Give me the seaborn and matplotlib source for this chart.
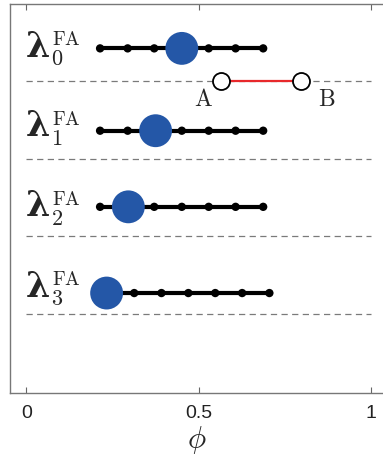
import matplotlib
matplotlib.use("Agg")
import matplotlib.pyplot as plt
import seaborn as sns
import pandas as pd

# phi grid for each eigenvalue row, and the index of the highlighted point
rows = ["0", "1", "2", "3"]
phi_row0 = [0.214, 0.294, 0.371, 0.451, 0.529, 0.607, 0.687]
phi_row1 = [0.214, 0.294, 0.375, 0.451, 0.529, 0.607, 0.687]
phi_row2 = [0.214, 0.296, 0.371, 0.451, 0.529, 0.607, 0.687]
phi_row3 = [0.233, 0.313, 0.392, 0.470, 0.548, 0.626, 0.705]
highlight_idx = [3, 2, 1, 0]

# segment A-B
seg_labels = ["A", "B"]
seg_phi = [0.564, 0.798]

xticks = [0, 0.5, 1]
xtick_labels = ["0", "0.5", "1"]

# vertical layout (axis units, increasing downwards)
row_y = [0.58, 1.64, 2.62, 3.73]
label_baseline_y = [0.687, 1.713, 2.743, 3.777]
separator_y = [1, 2, 3, 4]
seg_y = 1.0

sns.set_theme(style="ticks")
plt.rcParams["mathtext.fontset"] = "cm"
plt.rcParams["font.family"] = ["Liberation Sans", "DejaVu Sans"]

fig = plt.figure(figsize=(3.83, 4.62), dpi=100)
W, H = 383, 462
ax = fig.add_axes([9.7 / W, 69.3 / H, (383 - 9.7) / W, 388.4 / H])
ax.set_xlim(-0.0481, 1.0345)
ax.set_ylim(5.013, 0.0125)

records = []
for r, (grid, y) in enumerate(zip([phi_row0, phi_row1, phi_row2, phi_row3], row_y)):
    for i, p in enumerate(grid):
        records.append({"row": rows[r], "phi": p, "y": y, "hl": i == highlight_idx[r]})
df = pd.DataFrame(records)

# dashed separators
for y in separator_y:
    ax.plot([0, 1], [y, y], color="#7a7a7a", lw=0.9, dashes=(5, 3.5), zorder=1)

# black chains with small dots and the highlighted point
sns.lineplot(data=df, x="phi", y="y", units="row", estimator=None, sort=False,
             color="black", lw=3.0, ax=ax, legend=False, zorder=2)
sns.scatterplot(data=df[~df.hl], x="phi", y="y", color="black", s=36,
                edgecolor="none", ax=ax, legend=False, zorder=3)
sns.scatterplot(data=df[df.hl], x="phi", y="y", color="#2457a7", s=560,
                edgecolor="none", ax=ax, legend=False, zorder=4)

# A-B segment
seg = pd.DataFrame({"phi": seg_phi, "y": [seg_y, seg_y], "lab": seg_labels})
ax.plot(seg.phi, seg.y, color="#e8282b", lw=1.6, zorder=3)
sns.scatterplot(data=seg, x="phi", y="y", color="white", s=150,
                edgecolor="black", linewidth=1.3, ax=ax, legend=False, zorder=5)
ax.text(seg_phi[0] - 0.05, seg_y + 0.24, r"$\mathrm{%s}$" % seg_labels[0], fontsize=17,
        ha="center", va="center")
ax.text(seg_phi[1] + 0.072, seg_y + 0.24, r"$\mathrm{%s}$" % seg_labels[1], fontsize=17,
        ha="center", va="center")

# row labels: bold lambda, then FA superscript and index subscript next to it
for r, yb in zip(rows, label_baseline_y):
    lam = ax.annotate("λ", xy=(-0.002, yb), xycoords="data", fontsize=25,
                      family="DejaVu Serif", fontweight="bold", ha="left", va="baseline")
    ax.annotate(r"$\mathrm{FA}$", xy=(1.0, yb), xycoords=(lam, "data"),
                xytext=(1.4, 8.4), textcoords="offset points",
                fontsize=14, ha="left", va="baseline")
    ax.annotate(r"$\mathrm{%s}$" % r, xy=(1.0, yb), xycoords=(lam, "data"),
                xytext=(0.6, -6.2), textcoords="offset points",
                fontsize=16, ha="left", va="baseline")

ax.set_xticks(xticks)
ax.set_xticklabels(xtick_labels, fontsize=14, color="#222222")
ax.set_yticks([])
ax.set_ylabel("")
ax.set_xlabel(r"$\phi$", fontsize=22, labelpad=1)
ax.tick_params(axis="x", direction="in", top=True, bottom=True, length=4,
               width=0.8, color="#666666", pad=9)
for s in ["left", "bottom", "top"]:
    ax.spines[s].set_color("#777777")
    ax.spines[s].set_linewidth(1.0)
ax.spines["right"].set_visible(False)

fig.savefig("out.png", dpi=100)
